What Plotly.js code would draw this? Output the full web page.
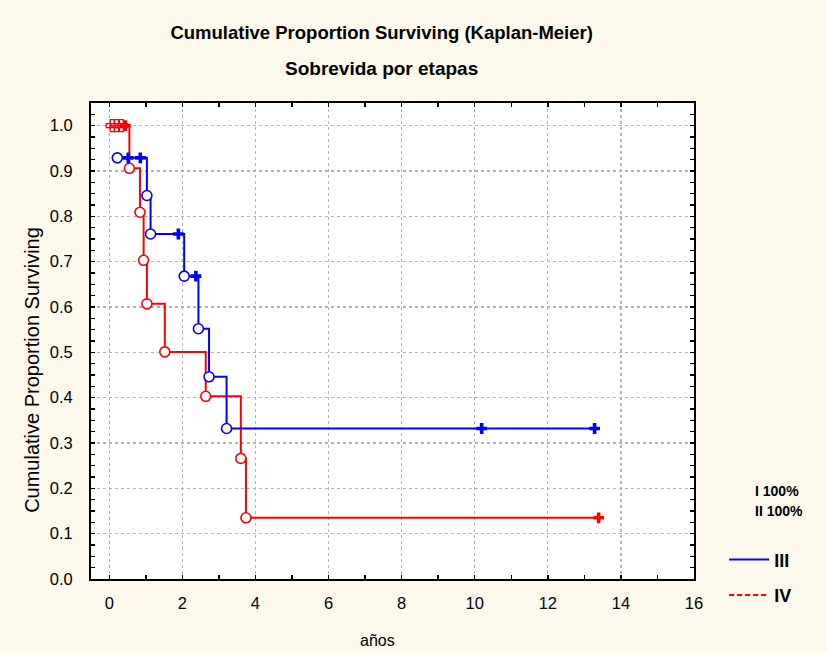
<!DOCTYPE html>
<html>
<head>
<meta charset="utf-8">
<script src="https://cdn.plot.ly/plotly-3.0.1.min.js"></script>
<style>html,body{margin:0;padding:0;background:#fdf8ec;}</style>
</head>
<body>
<div id="chart" style="width:827px;height:653px;"></div>
<script>
// Stage III (blue): event (death) times and survival after each event
var blueEventT = [0.22, 1.03, 1.13, 2.05, 2.44, 2.73, 3.21];
var blueEventS = [0.929, 0.846, 0.761, 0.668, 0.552, 0.446, 0.332];
// Stage III censored observations
var blueCensT = [0.52, 0.85, 1.89, 2.37, 10.19, 13.28];
var blueCensS = [0.929, 0.929, 0.761, 0.668, 0.332, 0.332];

// Stage IV (red)
var redStartT = 0, redStartS = 1.0;
var redEventT = [0.55, 0.84, 0.94, 1.03, 1.52, 2.64, 3.60, 3.74];
var redEventS = [0.906, 0.809, 0.703, 0.607, 0.501, 0.403, 0.266, 0.135];
var redCensT = [0.08, 0.2, 0.33, 0.44, 13.39];
var redCensS = [1.0, 1.0, 1.0, 1.0, 0.135];

var xTickVals = [0, 2, 4, 6, 8, 10, 12, 14, 16];
var yTickVals = [0.0, 0.1, 0.2, 0.3, 0.4, 0.5, 0.6, 0.7, 0.8, 0.9, 1.0];
var yTickText = yTickVals.map(function(v){return v.toFixed(1);});

var legendNames = ['III', 'IV'];
var noteLines = ['I 100%', 'II 100%'];

var BLUE = '#0000ff', RED = '#ff0000';
var FONT = 'Liberation Sans, Arial, sans-serif';

function stepLine(x0, y0, ts, ss, endT) {
  var xs = [], ys = [];
  if (x0 !== null) { xs.push(x0); ys.push(y0); }
  for (var i = 0; i < ts.length; i++) { xs.push(ts[i]); ys.push(ss[i]); }
  xs.push(endT); ys.push(ss[ss.length - 1]);
  return {x: xs, y: ys};
}
var redLine = stepLine(redStartT, redStartS, redEventT, redEventS, redCensT[redCensT.length - 1]);
var blueLine = stepLine(null, null, blueEventT, blueEventS, blueCensT[blueCensT.length - 1]);

var traces = [
  {x: redLine.x, y: redLine.y, mode: 'lines', line: {color: RED, width: 2, shape: 'hv'}, showlegend: false, hoverinfo: 'skip'},
  {x: redEventT, y: redEventS, mode: 'markers', marker: {symbol: 'circle', size: 10, color: 'white', line: {color: RED, width: 1.6}}, showlegend: false},
  {x: redCensT.slice(0, 3), y: redCensS.slice(0, 3), mode: 'markers', marker: {symbol: 'cross-open', size: 10, color: RED, line: {color: RED, width: 1.3}}, showlegend: false},
  {x: redCensT.slice(3), y: redCensS.slice(3), mode: 'markers', marker: {symbol: 'cross', size: 9, color: RED, line: {width: 0}}, showlegend: false},
  {x: blueLine.x, y: blueLine.y, mode: 'lines', line: {color: BLUE, width: 2, shape: 'hv'}, showlegend: false, hoverinfo: 'skip'},
  {x: blueEventT, y: blueEventS, mode: 'markers', marker: {symbol: 'circle', size: 10, color: 'white', line: {color: BLUE, width: 1.6}}, showlegend: false},
  {x: blueCensT, y: blueCensS, mode: 'markers', marker: {symbol: 'cross', size: 9, color: BLUE, line: {width: 0}}, showlegend: false},
  // legend entries
  {x: [null], y: [null], mode: 'lines', name: legendNames[0], line: {color: BLUE, width: 2}, legendgroup: 'a'},
  {x: [null], y: [null], mode: 'lines', name: legendNames[1], line: {color: RED, width: 2, dash: '5px,3px'}, legendgroup: 'b'}
];

var axisFont = {family: FONT, size: 16.5, color: '#000'};

var layout = {
  width: 827, height: 653,
  paper_bgcolor: '#fdf8ec',
  plot_bgcolor: '#ffffff',
  margin: {l: 91, r: 133, t: 103, b: 74},
  title: {
    text: 'Cumulative Proportion Surviving (Kaplan-Meier)',
    font: {family: FONT, size: 18.5, color: '#000', weight: 'bold'},
    xref: 'paper', x: 0.482, xanchor: 'center',
    yref: 'container', y: 1 - 33/653, yanchor: 'middle'
  },
  xaxis: {
    range: [-0.5, 16], tickvals: xTickVals, ticktext: xTickVals.map(String),
    ticks: 'inside', ticklen: 4, tickwidth: 1.5, tickcolor: '#000',
    minor: {dtick: 1, tick0: 0, ticks: 'inside', ticklen: 4, tickwidth: 1.5, tickcolor: '#000', showgrid: false},
    showline: true, linecolor: '#000', linewidth: 2, mirror: 'ticks',
    showgrid: true, gridcolor: '#b4b4b4', griddash: '3px,3px', gridwidth: 1.3,
    zeroline: false, tickfont: axisFont, ticklabelstandoff: 8
  },
  yaxis: {
    range: [0, 1.05], tickvals: yTickVals, ticktext: yTickText,
    ticks: 'inside', ticklen: 4, tickwidth: 1.5, tickcolor: '#000',
    minor: {dtick: 0.025, tick0: 0, ticks: 'inside', ticklen: 4, tickwidth: 1.5, tickcolor: '#000', showgrid: false},
    showline: true, linecolor: '#000', linewidth: 2, mirror: 'ticks',
    showgrid: true, gridcolor: '#b4b4b4', griddash: '3px,3px', gridwidth: 1.3,
    zeroline: false, tickfont: axisFont, ticklabelstandoff: 13
  },
  legend: {
    x: 1.05, xanchor: 'left', y: 0.079, yanchor: 'top',
    bgcolor: 'rgba(0,0,0,0)', borderwidth: 0,
    font: {family: FONT, size: 18, color: '#000', weight: 'bold'},
    tracegroupgap: 9, itemwidth: 40
  },
  annotations: [
    {text: 'Sobrevida por etapas', xref: 'paper', yref: 'paper', x: 0.482, y: 1 + 35/476.3, xanchor: 'center', yanchor: 'middle', showarrow: false,
     font: {family: FONT, size: 19, color: '#000', weight: 'bold'}},
    {text: 'Cumulative Proportion Surviving', xref: 'paper', yref: 'paper', x: (32-91)/603.3, y: (579.3-370)/476.3, textangle: -90,
     xanchor: 'center', yanchor: 'middle', showarrow: false, font: {family: FONT, size: 20, color: '#000'}},
    {text: 'años', xref: 'paper', yref: 'paper', x: (378-91)/603.3, y: (579.3-641)/476.3, xanchor: 'center', yanchor: 'middle', showarrow: false,
     font: {family: FONT, size: 16, color: '#000'}},
    {text: noteLines[0], xref: 'paper', yref: 'paper', x: (753-91)/603.3, y: (579.3-491)/476.3, xanchor: 'left', yanchor: 'middle', showarrow: false,
     font: {family: FONT, size: 14, color: '#000', weight: 'bold'}},
    {text: noteLines[1], xref: 'paper', yref: 'paper', x: (753-91)/603.3, y: (579.3-511)/476.3, xanchor: 'left', yanchor: 'middle', showarrow: false,
     font: {family: FONT, size: 14, color: '#000', weight: 'bold'}}
  ]
};

Plotly.newPlot('chart', traces, layout, {displayModeBar: false, staticPlot: true});
</script>
</body>
</html>
